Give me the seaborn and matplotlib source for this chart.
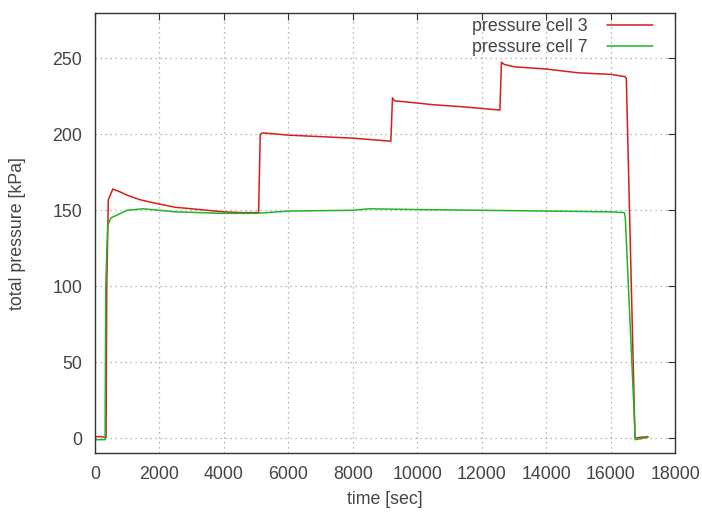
import pandas as pd
import matplotlib
matplotlib.use('Agg')
import matplotlib.pyplot as plt
import seaborn as sns

# key points (time in sec, pressure in kPa)
t_cell3 = [0, 200, 350, 372, 420, 560, 800, 1000, 1400, 1800, 2500, 3000, 3500, 4000, 4500, 5080,
           5130, 5200, 6000, 7000, 8000, 9180, 9230, 9300, 9600, 10500, 11500, 12560,
           12610, 12700, 13000, 14000, 15000, 16000, 16440, 16480, 16750, 16900, 17150]
p_cell3 = [1, 1, 0.5, 100, 157, 164, 162, 160, 157, 155, 152, 151, 150, 149, 148.5, 148.5,
           200, 201, 199.5, 198.5, 197.5, 195.5, 224, 222, 221.5, 219.5, 218, 216,
           247.5, 246, 244.5, 243, 240.5, 239.5, 238, 237, 0, 0.5, 1]

t_cell7 = [0, 200, 320, 341, 400, 500, 800, 1000, 1500, 2500, 4000, 5000, 6000, 8000, 8500,
           10000, 12000, 14000, 16000, 16420, 16450, 16760, 16900, 17150]
p_cell7 = [-1, -1, -1, 100, 140, 145, 148, 150, 151, 149, 148, 148, 149.5, 150, 151,
           150.5, 150, 149.5, 149, 148.5, 145, -1, -0.5, 0.5]

df3 = pd.DataFrame({'time': t_cell3, 'pressure': p_cell3})
df7 = pd.DataFrame({'time': t_cell7, 'pressure': p_cell7})

sns.set_style('white')
plt.rcParams['font.family'] = ['Liberation Sans', 'DejaVu Sans']
fs = 12.8

fig, ax = plt.subplots(figsize=(7.02, 5.14), dpi=100)
fig.subplots_adjust(left=0.135, right=0.962, top=0.975, bottom=0.118)

sns.lineplot(data=df3, x='time', y='pressure', ax=ax, color='#d61e1e', lw=1.1,
             label='pressure cell 3', estimator=None, sort=False)
sns.lineplot(data=df7, x='time', y='pressure', ax=ax, color='#22b422', lw=1.1,
             label='pressure cell 7', estimator=None, sort=False)

ax.set_xlim(0, 18000)
ax.set_ylim(-10, 280)
ax.set_xticks(range(0, 18001, 2000))
ax.set_yticks(range(0, 251, 50))
ax.grid(True, color='#a0a0a0', linestyle=(0, (1, 3)), lw=0.9)
ax.tick_params(direction='in', length=5, top=True, right=True, labelsize=fs,
               colors='#333333', labelcolor='#444444', pad=9)
for s in ax.spines.values():
    s.set_color('#333333')
    s.set_linewidth(1.0)

ax.set_xlabel('time [sec]', fontsize=fs, color='#444444', labelpad=6)
ax.set_ylabel('total pressure [kPa]', fontsize=fs, color='#444444', labelpad=19)

leg = ax.legend(loc='upper right', frameon=False, markerfirst=False, fontsize=fs,
                handlelength=2.6, handletextpad=1.1, borderaxespad=0, labelspacing=0.25,
                bbox_to_anchor=(0.974, 1.005))
for txt in leg.get_texts():
    txt.set_color('#444444')

fig.savefig('out.png', dpi=100)
